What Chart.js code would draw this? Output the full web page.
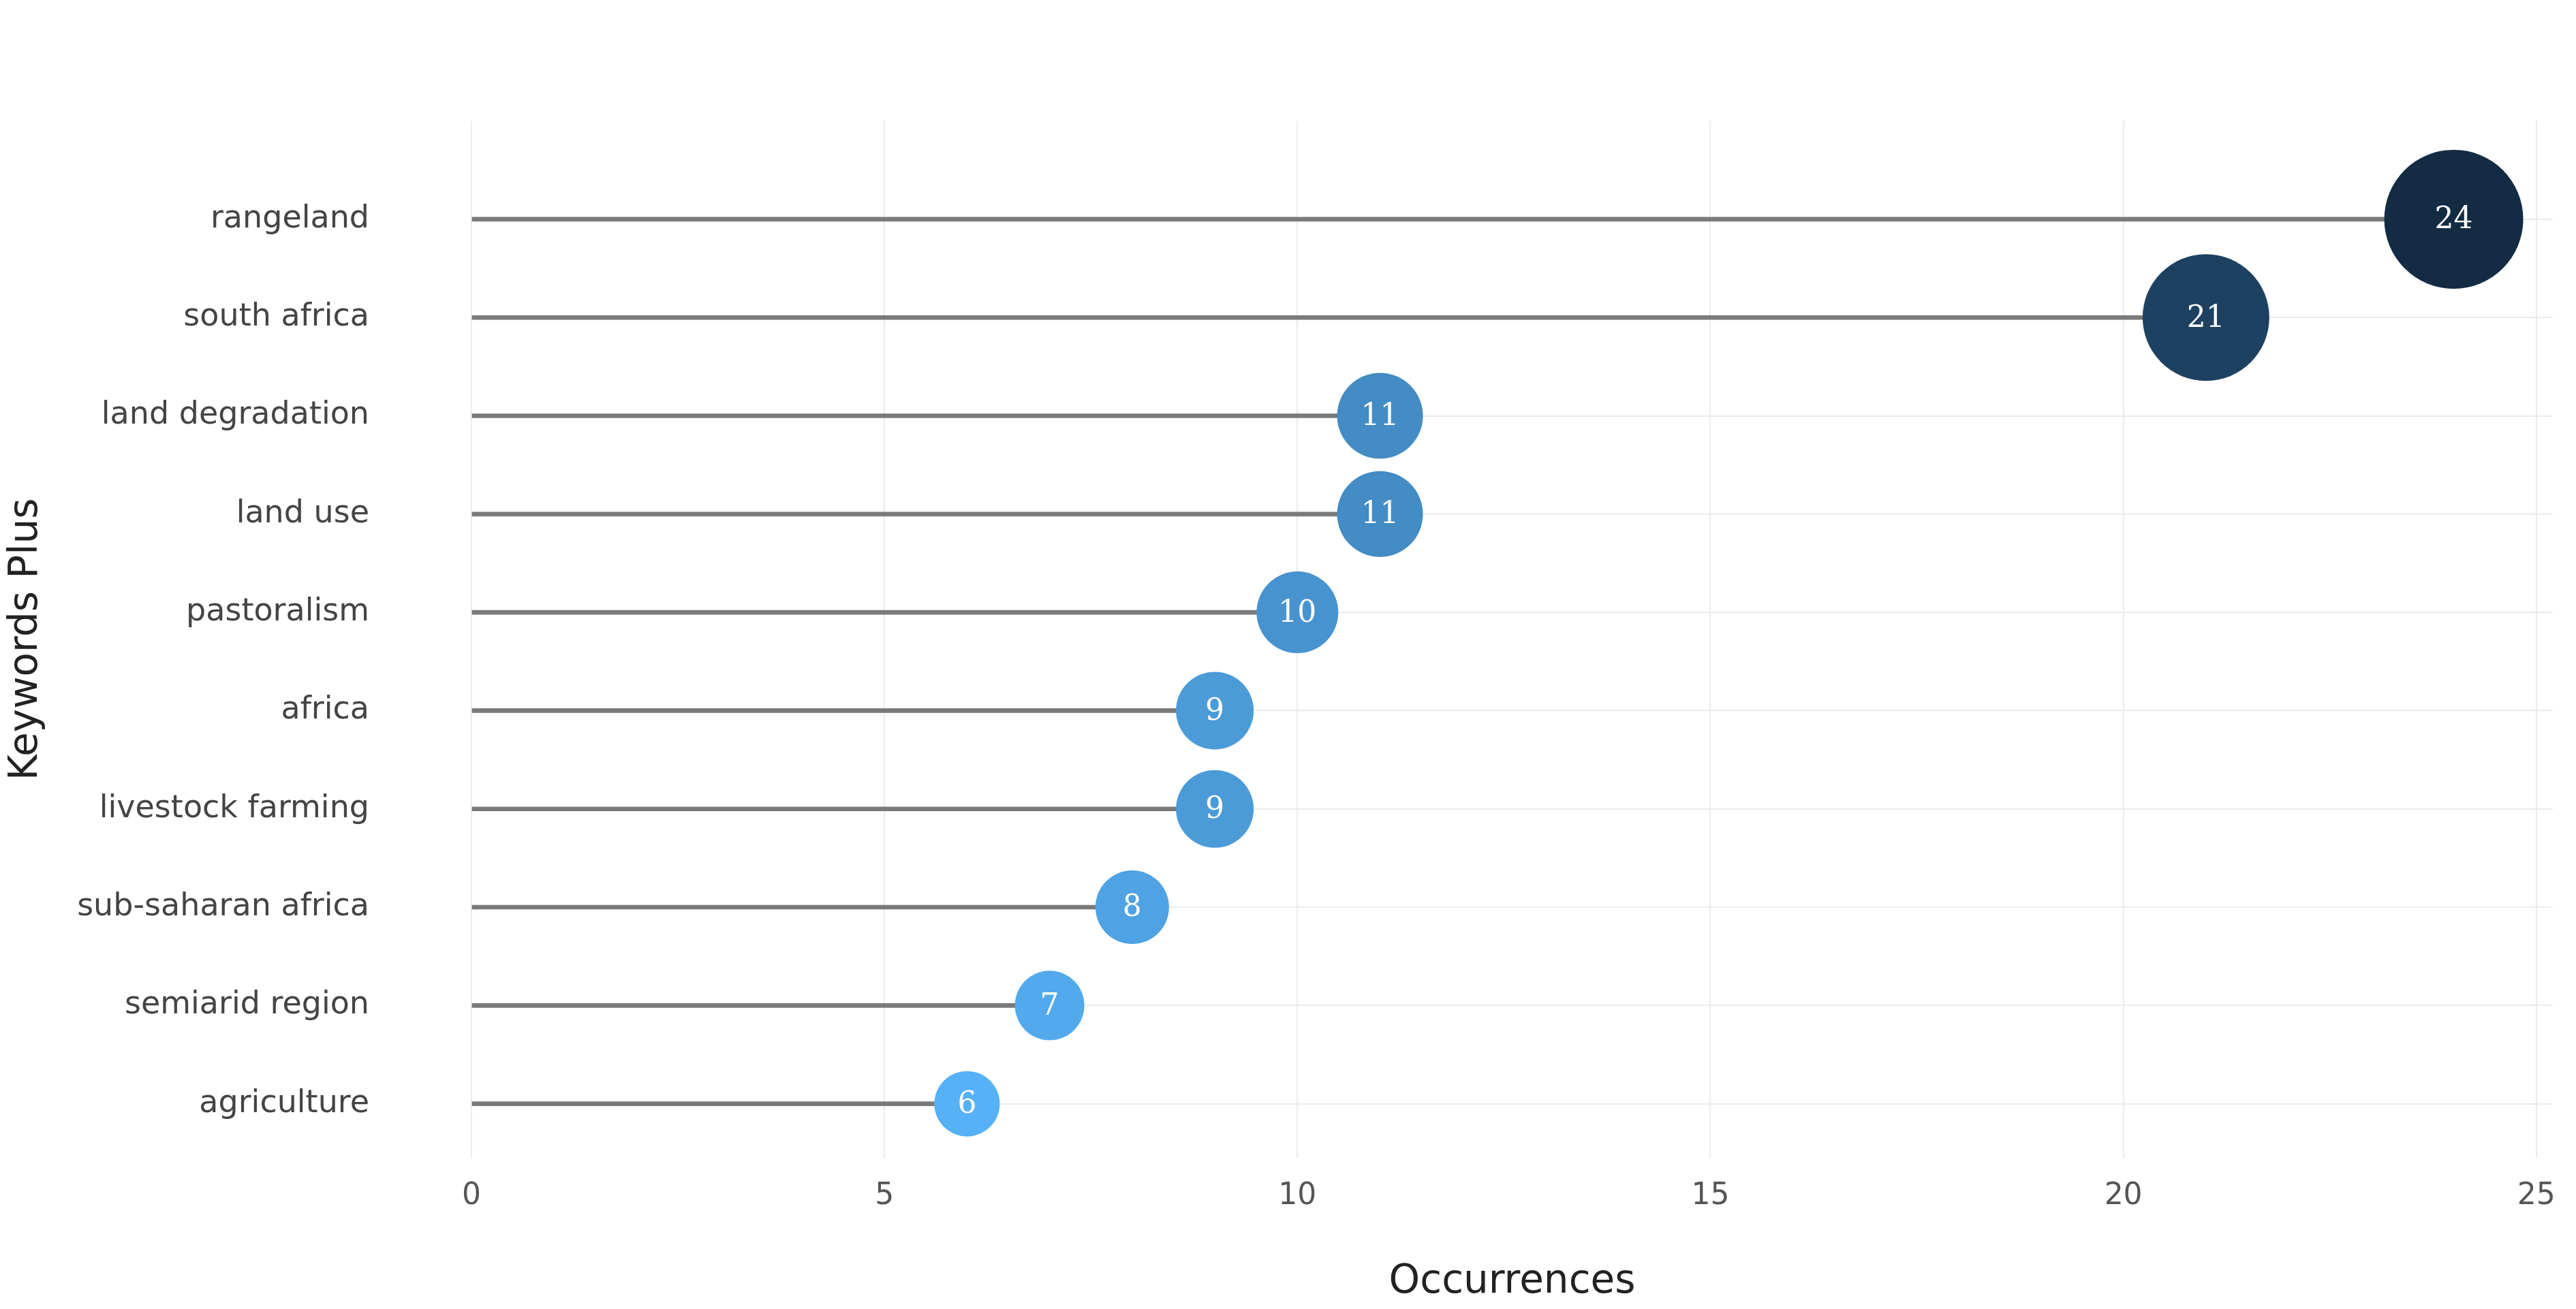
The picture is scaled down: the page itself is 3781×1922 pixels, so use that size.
<!DOCTYPE html>
<html>
<head>
<meta charset="utf-8">
<script src="https://cdn.jsdelivr.net/npm/chart.js@4/dist/chart.umd.min.js"></script>
<style>
  html, body { margin: 0; padding: 0; background: #fff; }
  #wrap { width: 3781px; height: 1922px; }
</style>
</head>
<body>
<div id="wrap"><canvas id="chart"></canvas></div>
<script>
// Keywords from top to bottom
const keywords = ['rangeland', 'south africa', 'land degradation', 'land use', 'pastoralism',
                  'africa', 'livestock farming', 'sub-saharan africa', 'semiarid region', 'agriculture'];
const occurrences = [24, 21, 11, 11, 10, 9, 9, 8, 7, 6];
const xTicks = [0, 5, 10, 15, 20, 25];

// row positions: top row highest
const rowPos = keywords.map((k, i) => keywords.length - i);

// ggplot-like continuous gradient low -> high
function gradient(v) {
    const lo = [0x56, 0xb1, 0xf7], hi = [0x13, 0x2b, 0x43];
    const t = (v - 6) / (24 - 6);
    const c = lo.map((l, i) => Math.round(l + (hi[i] - l) * t));
    return `rgb(${c[0]},${c[1]},${c[2]})`;
}

const valueLabels = {
    id: 'valueLabels',
    afterDatasetsDraw(chart) {
        const ctx = chart.ctx;
        const meta = chart.getDatasetMeta(1);
        ctx.save();
        ctx.fillStyle = '#fff';
        ctx.font = '44px "DejaVu Serif"';
        ctx.textAlign = 'center';
        ctx.textBaseline = 'middle';
        meta.data.forEach((el, i) => ctx.fillText(String(occurrences[i]), el.x, el.y + 2));
        ctx.restore();
    }
};

new Chart(document.getElementById('chart'), {
    type: 'bar',
    data: {
        datasets: [{
            type: 'bar',
            indexAxis: 'y',
            data: occurrences.map((v, i) => ({ x: [0, v], y: rowPos[i] })),
            backgroundColor: '#7a7a7a',
            barThickness: 6,
            order: 2
        }, {
            type: 'bubble',
            data: occurrences.map((v, i) => ({ x: v, y: rowPos[i], r: 30 + v * 3 })),
            backgroundColor: occurrences.map(gradient),
            borderWidth: 0,
            clip: false,
            order: 1
        }]
    },
    options: {
        responsive: true,
        maintainAspectRatio: false,
        animation: false,
        layout: { autoPadding: false, padding: { top: 29, right: 29, left: 0, bottom: 0 } },
        plugins: { legend: { display: false }, tooltip: { enabled: false } },
        scales: {
            x: {
                type: 'linear',
                offset: false,
                min: 0, max: 25.2,
                afterBuildTicks: (axis) => { axis.ticks = xTicks.map(v => ({ value: v })); },
                afterFit: (axis) => { axis.height = 222; },
                grid: { color: '#ebebeb', lineWidth: 2, drawTicks: false, offset: false },
                border: { display: false },
                ticks: { color: '#555', font: { size: 44, family: 'DejaVu Sans' }, padding: 30 },
                title: { display: true, text: 'Occurrences', color: '#222',
                         font: { size: 58, family: 'DejaVu Sans' }, padding: { top: 36 } }
            },
            y: {
                type: 'linear',
                offset: false,
                min: 0.45, max: 11,
                afterBuildTicks: (axis) => { axis.ticks = rowPos.map(v => ({ value: v })); },
                afterFit: (axis) => { axis.width = 692; },
                grid: { color: '#ebebeb', lineWidth: 2, drawTicks: false, offset: false },
                border: { display: false },
                ticks: {
                    color: '#444', font: { size: 46, family: 'DejaVu Sans' }, padding: 150,
                    callback: (v) => keywords[keywords.length - v]
                },
                title: { display: true, text: 'Keywords Plus', color: '#222',
                         font: { size: 58, family: 'DejaVu Sans' }, padding: { bottom: 0 } }
            }
        }
    },
    plugins: [valueLabels]
});
</script>
</body>
</html>
